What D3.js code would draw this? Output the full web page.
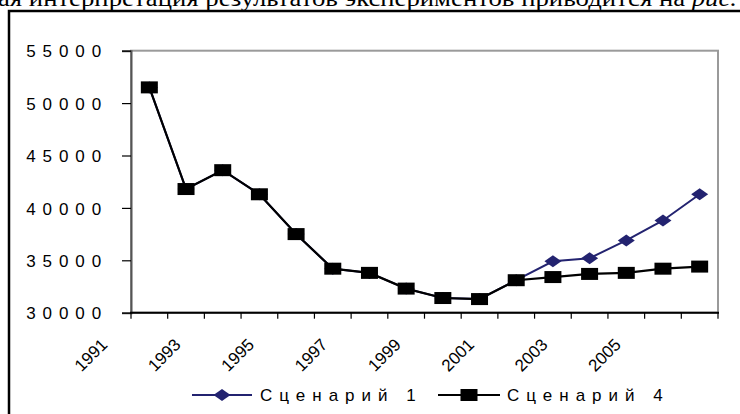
<!DOCTYPE html>
<html><head><meta charset="utf-8">
<script src="https://cdn.jsdelivr.net/npm/d3@7"></script>
<style>
html,body{margin:0;padding:0;background:#fff;overflow:hidden}
svg{display:block}
</style></head>
<body>
<svg id="c" width="740" height="414"></svg>
<script>
const years = [1991,1992,1993,1994,1995,1996,1997,1998,1999,2000,2001,2002,2003,2004,2005,2006];
const scenario1 = [51500,41800,43600,41300,37500,34200,33800,32300,31400,31300,33100,34900,35200,36900,38800,41300];
const scenario4 = [51500,41800,43600,41300,37500,34200,33800,32300,31400,31300,33100,33400,33700,33800,34200,34400];
const yTicks = [30000,35000,40000,45000,50000,55000];
const xLabels = ["1991","1993","1995","1997","1999","2001","2003","2005"];
const seriesNames = ["Сценарий 1","Сценарий 4"];
const headText = "ая интерпретация результатов экспериментов приводится на ";
const headItalic = "рис.";

const SANS = "'Liberation Sans', Arial, Helvetica, sans-serif";
const svg = d3.select("#c");
const L = 131, R = 718, T = 50.7, B = 312.7;
const x = d3.scaleBand().domain(years).range([L, R]);
const y = d3.scaleLinear().domain([30000, 55000]).range([B, T]);

// heading text (cut at top, as in the source page)
const ht = svg.append("text").attr("x", -2).attr("y", 6)
  .attr("font-family", "'Liberation Serif', 'Times New Roman', serif").attr("font-size", 23)
  .attr("fill", "#000");
ht.append("tspan").text(headText);
ht.append("tspan").attr("font-style", "italic").text(headItalic);
ht.attr("textLength", 739).attr("lengthAdjust", "spacingAndGlyphs");

// outer frame
svg.append("path").attr("d", `M9,420 L9,11 L745,11`).attr("fill", "none")
  .attr("stroke", "#000").attr("stroke-width", 2.5);

// plot area border (gray)
svg.append("rect").attr("x", L).attr("y", T).attr("width", R - L).attr("height", B - T)
  .attr("fill", "none").attr("stroke", "#9a9a9a").attr("stroke-width", 2);

// y axis
const yAxis = d3.axisLeft(y).tickValues(yTicks).tickSize(9).tickFormat(d3.format("d"));
const gy = svg.append("g").attr("transform", `translate(${L},0)`).call(yAxis);
gy.select(".domain").attr("stroke", "#555").attr("stroke-width", 2);
gy.selectAll(".tick line").attr("stroke", "#000").attr("stroke-width", 1.2);
gy.selectAll(".tick text").attr("font-family", SANS)
  .attr("font-size", 17).attr("fill", "#000").attr("letter-spacing", 6.9)
  .attr("x", -23).attr("dy", "0.36em");

// x axis with ticks at category boundaries
const bounds = years.map(d => x(d)).concat([R]);
const gx = svg.append("g");
gx.append("line").attr("x1", L - 1).attr("x2", R + 1).attr("y1", B).attr("y2", B)
  .attr("stroke", "#000").attr("stroke-width", 2);
gx.selectAll("line.tk").data(bounds).join("line").attr("class", "tk")
  .attr("x1", d => d).attr("x2", d => d).attr("y1", B).attr("y2", B + 6)
  .attr("stroke", "#000").attr("stroke-width", 1.2);
gx.selectAll("text").data(xLabels).join("text")
  .attr("transform", d => `translate(${x(+d) + x.bandwidth() / 2 - 41},${B + 33}) rotate(-45)`)
  .attr("text-anchor", "end")
  .attr("font-family", SANS).attr("font-size", 17)
  .attr("fill", "#000").text(d => d);

// lines
const cx = d => x(d) + x.bandwidth() / 2;
const line = d3.line().x((d, i) => cx(years[i])).y(d => y(d));
const navy = "#232370";
svg.append("path").datum(scenario1).attr("d", line).attr("fill", "none")
  .attr("stroke", navy).attr("stroke-width", 2);
const diamond = (px, py, w, h) => `M${px},${py - h / 2} L${px + w / 2},${py} L${px},${py + h / 2} L${px - w / 2},${py} Z`;
svg.selectAll("path.dm").data(scenario1).join("path").attr("class", "dm")
  .attr("d", (d, i) => diamond(cx(years[i]), y(d), 17, 12)).attr("fill", navy);

svg.append("path").datum(scenario4).attr("d", line).attr("fill", "none")
  .attr("stroke", "#000").attr("stroke-width", 2.2);
svg.selectAll("rect.sq").data(scenario4).join("rect").attr("class", "sq")
  .attr("x", (d, i) => cx(years[i]) - 8.5).attr("y", d => y(d) - 6)
  .attr("width", 17).attr("height", 12).attr("fill", "#000");

// legend
const lg = svg.append("g");
const ly = 395;
const legendItems = [
  {name: seriesNames[0], x0: 192, x1: 252, tx: 260, color: navy, mark: "d"},
  {name: seriesNames[1], x0: 438, x1: 500, tx: 507, color: "#000", mark: "s"}
];
legendItems.forEach(it => {
  lg.append("line").attr("x1", it.x0).attr("x2", it.x1).attr("y1", ly).attr("y2", ly)
    .attr("stroke", it.color).attr("stroke-width", 2);
  const mx = (it.x0 + it.x1) / 2;
  if (it.mark === "d") lg.append("path").attr("d", diamond(mx, ly, 17, 12)).attr("fill", it.color);
  else lg.append("rect").attr("x", mx - 8.5).attr("y", ly - 6).attr("width", 17).attr("height", 12).attr("fill", it.color);
  lg.append("text").attr("x", it.tx).attr("y", ly).attr("dy", "0.36em")
    .attr("font-family", SANS).attr("font-size", 17)
    .attr("letter-spacing", 7).attr("fill", "#000").text(it.name);
});
</script>
</body></html>
